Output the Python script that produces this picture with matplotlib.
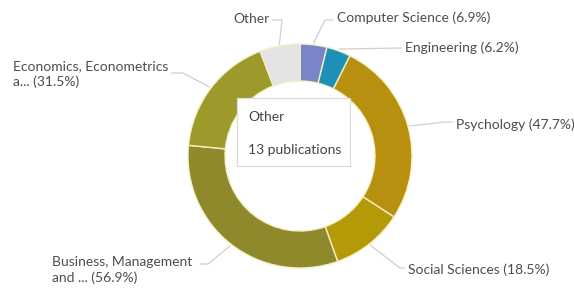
import numpy as np
import matplotlib
matplotlib.use("Agg")
import matplotlib.pyplot as plt
from matplotlib.patches import Rectangle

# subject areas (share of documents, %), "Other"
labels = ["Computer Science (6.9%)", "Engineering (6.2%)", "Psychology (47.7%)",
          "Social Sciences (18.5%)", "Business, Management\nand ... (56.9%)",
          "Economics, Econometrics\na... (31.5%)", "Other"]
values = [6.9, 6.2, 47.7, 18.5, 56.9, 31.5, 10.3]
colors = ["#7a84c8", "#1e90b8", "#b8900f", "#b39a06", "#8e8a2c", "#9c9a2a", "#e3e3e3"]

tip_title = "Other"
tip_text = "13 publications"

# label anchor (px, left or right edge) and alignment
label_pos = [(337, 18, "left"), (405, 48, "left"), (456, 125, "left"),
             (408, 270, "left"), (52, 270, "left"), (13, 74, "left"),
             (270, 19, "right")]
leader_end = [(325, 20), (400, 48), (445, 122), (400, 268), (208, 264), (183, 73), (282, 20)]
leader_stop = [333, 401, 452, 404, 200, 172, 273]

W, H = 574, 288
cx, cy, R, ring = 300, 156, 112, 37

plt.rcParams['font.family'] = ['Lato', 'DejaVu Sans']

fig = plt.figure(figsize=(W / 100, H / 100), dpi=100)
ax = fig.add_axes([0, 0, 1, 1])

wedges, _ = ax.pie(values, colors=colors, startangle=90, counterclock=False,
                   center=(cx, H - cy), radius=R, frame=True,
                   wedgeprops=dict(width=ring, edgecolor="#f4efc4", linewidth=1))
ax.set_xlim(0, W)
ax.set_ylim(0, H)
ax.axis("off")

for w, lab, (tx, ty, ha), (lx, ly), stop in zip(wedges, labels, label_pos,
                                                leader_end, leader_stop):
    mid = np.deg2rad((w.theta1 + w.theta2) / 2)
    sx = cx + (R + 2) * np.cos(mid)
    sy = (H - cy) + (R + 2) * np.sin(mid)
    ax.plot([sx, lx, stop], [sy, H - ly, H - ly], color="#cfcfcf", lw=0.9, zorder=1)
    ax.text(tx, H - ty, lab, ha=ha, va="center", fontsize=10, color="#4d4d4d",
            linespacing=1.3, multialignment="left")

# tooltip
ax.add_patch(Rectangle((237, H - 166), 113, 68, facecolor="white",
                       edgecolor="#dadada", lw=0.9, zorder=5))
ax.text(248, H - 117, tip_title, fontsize=10, color="#444444", va="center", zorder=6)
ax.text(248, H - 150, tip_text, fontsize=10, color="#444444", va="center", zorder=6)

fig.savefig("out.png", dpi=100)
